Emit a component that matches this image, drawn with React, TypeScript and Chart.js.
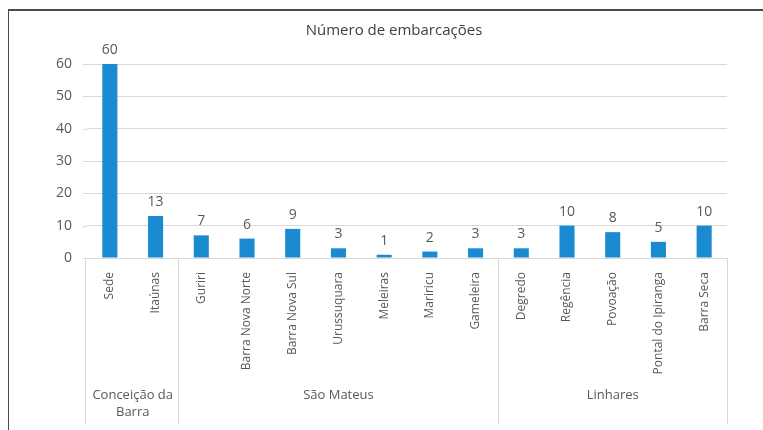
import React, { useEffect, useRef } from "react";
import { Chart, registerables } from "chart.js";

Chart.register(...registerables);

const title = "Número de embarcações";
const categories = [
  "Sede", "Itaúnas", "Guriri", "Barra Nova Norte", "Barra Nova Sul", "Urussuquara",
  "Meleiras", "Mariricu", "Gameleira", "Degredo", "Regência", "Povoação",
  "Pontal do Ipiranga", "Barra Seca",
];
const values = [60, 13, 7, 6, 9, 3, 1, 2, 3, 3, 10, 8, 5, 10];
const groups = [
  { label: ["Conceição da", "Barra"], from: 0, to: 1 },
  { label: ["São Mateus"], from: 2, to: 8 },
  { label: ["Linhares"], from: 9, to: 13 },
];
const yTicks = [0, 10, 20, 30, 40, 50, 60];

const FONT = "'Open Sans', Lato, sans-serif";
const TEXT = "#595959";
const GRID = "#d9d9d9";

const extrasPlugin = {
  id: "extras",
  beforeDatasetsDraw(chart: any) {
    const { ctx, chartArea, scales } = chart;
    ctx.save();
    ctx.strokeStyle = GRID;
    ctx.lineWidth = 1;
    yTicks.forEach((v) => {
      const py = Math.round(scales.y.getPixelForValue(v)) + 0.5;
      ctx.beginPath();
      ctx.moveTo(83, py);
      ctx.lineTo(chartArea.left, py);
      ctx.stroke();
    });
    ctx.restore();
  },
  afterDatasetsDraw(chart: any) {
    const { ctx, chartArea, scales } = chart;
    const x = scales.x;
    ctx.save();
    // title
    ctx.fillStyle = "#404040";
    ctx.font = `15px ${FONT}`;
    ctx.textAlign = "center";
    ctx.textBaseline = "middle";
    ctx.fillText(title, 394, 31);
    // data labels
    ctx.font = `14px ${FONT}`;
    ctx.fillStyle = TEXT;
    ctx.textBaseline = "bottom";
    const meta = chart.getDatasetMeta(0);
    meta.data.forEach((bar: any, i: number) => {
      ctx.fillText(String(values[i]), bar.x, bar.y - 7);
    });
    // group separators
    const bottom = 424;
    ctx.strokeStyle = GRID;
    ctx.lineWidth = 1;
    const step = x.getPixelForValue(1) - x.getPixelForValue(0);
    const bounds = [x.getPixelForValue(0) - step / 2 - 2];
    groups.forEach((g) => bounds.push(x.getPixelForValue(g.to) + step / 2));
    bounds.forEach((bx) => {
      const px = Math.round(bx) + 0.5;
      ctx.beginPath();
      ctx.moveTo(px, chartArea.bottom);
      ctx.lineTo(px, bottom);
      ctx.stroke();
    });
    // group labels
    ctx.font = `13px ${FONT}`;
    ctx.fillStyle = TEXT;
    ctx.textBaseline = "middle";
    groups.forEach((g) => {
      const cx = (x.getPixelForValue(g.from) + x.getPixelForValue(g.to)) / 2;
      g.label.forEach((line, li) => {
        ctx.fillText(line, cx, 395 + li * 17);
      });
    });
    ctx.restore();
  },
};

export default function App() {
  const ref = useRef<HTMLCanvasElement | null>(null);
  useEffect(() => {
    if (!ref.current) return;
    const chart = new Chart(ref.current, {
      type: "bar",
      data: {
        labels: categories,
        datasets: [
          {
            data: values,
            backgroundColor: "#1a8bd1",
            barPercentage: 0.33,
            categoryPercentage: 1,
          },
        ],
      },
      plugins: [extrasPlugin],
      options: {
        animation: false,
        responsive: false,
        maintainAspectRatio: false,
        layout: { padding: { top: 64, left: 0, right: 36, bottom: 0 } },
        plugins: {
          legend: { display: false },
          title: { display: false },
          tooltip: { enabled: false },
        },
        scales: {
          x: {
            grid: { display: false },
            border: { display: false },
            afterFit: (s: any) => {
              s.height = 172;
            },
            ticks: {
              minRotation: 90,
              maxRotation: 90,
              autoSkip: false,
              padding: 6,
              color: TEXT,
              font: { family: FONT, size: 12 },
            },
          },
          y: {
            min: 0,
            max: 60,
            afterFit: (s: any) => {
              s.width = 87;
            },
            afterBuildTicks: (s: any) => {
              s.ticks = yTicks.map((v) => ({ value: v }));
            },
            grid: { color: GRID, drawTicks: false },
            border: { display: false },
            ticks: {
              padding: 15,
              color: TEXT,
              font: { family: FONT, size: 14 },
            },
          },
        },
      },
    });
    return () => chart.destroy();
  }, []);
  return (
    <div style={{ position: "absolute", left: 0, top: 0, width: 763, height: 430, background: "#fff", overflow: "hidden" }}>
      <canvas ref={ref} width={763} height={430} style={{ position: "absolute", left: 0, top: 0 }} />
      <div
        style={{
          position: "absolute",
          left: 8,
          top: 9,
          width: 755,
          height: 421,
          borderTop: "2px solid #4a4a4a",
          borderLeft: "1.5px solid #4a4a4a",
          boxSizing: "border-box",
          pointerEvents: "none",
        }}
      />
    </div>
  );
}
